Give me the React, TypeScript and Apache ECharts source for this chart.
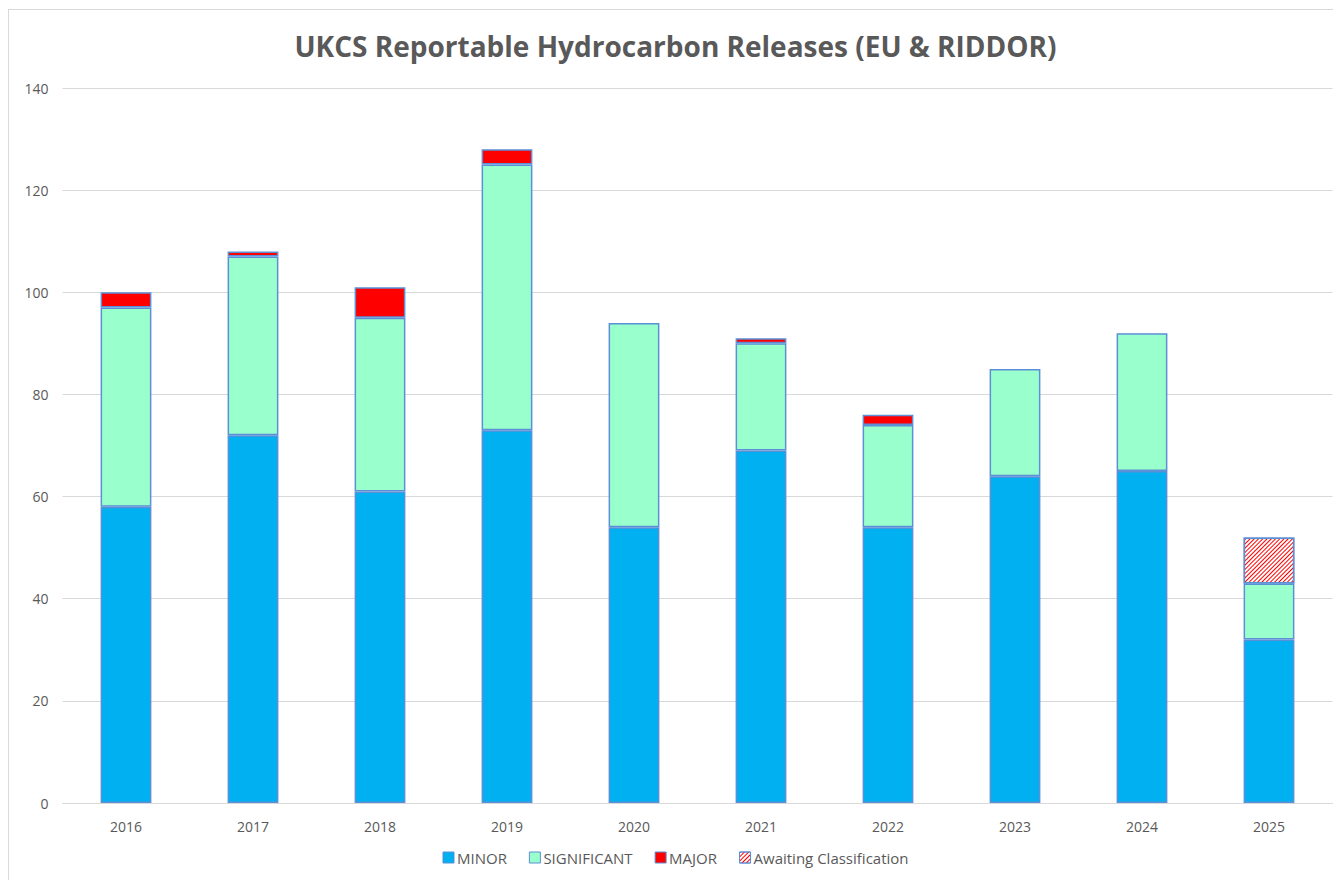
import React, { useEffect, useRef } from "react";
import * as echarts from "echarts";

const years = ["2016", "2017", "2018", "2019", "2020", "2021", "2022", "2023", "2024", "2025"];
const minor = [58, 72, 61, 73, 54, 69, 54, 64, 65, 32];
const significant = [39, 35, 34, 52, 40, 21, 20, 21, 27, 11];
const major = [3, 1, 6, 3, 0, 1, 2, 0, 0, 0];
const awaiting = [0, 0, 0, 0, 0, 0, 0, 0, 0, 9];

const FONT = "'Open Sans', 'Liberation Sans', sans-serif";
const BORDER = "#5B8FD6";

export default function App() {
  const ref = useRef<HTMLDivElement>(null);
  useEffect(() => {
    const chart = echarts.init(ref.current!, null, { renderer: "svg" });
    const hatch = {
      symbol: "rect",
      color: "#FF0000",
      dashArrayX: [1, 0],
      dashArrayY: [1, 2],
      rotation: -Math.PI / 4,
      symbolSize: 1,
    };
    const mk = (name: string, data: number[], color: string, extra: any = {}) => ({
      name,
      type: "bar",
      stack: "total",
      barWidth: "40%",
      data: data.map((v) => (v === 0 ? null : v)),
      itemStyle: { color, borderColor: BORDER, borderWidth: 1.5, ...extra },
      emphasis: { disabled: true },
    });
    chart.setOption({
      animation: false,
      backgroundColor: "#fff",
      title: {
        text: "UKCS Reportable Hydrocarbon Releases (EU & RIDDOR)",
        left: "center",
        top: 17,
        textStyle: { fontFamily: FONT, fontSize: 28, fontWeight: "bold", color: "#595959" },
      },
      grid: { left: 53.5, right: 9.5, top: 78, bottom: 77 },
      legend: {
        bottom: 10,
        left: "center",
        itemWidth: 11,
        itemHeight: 11,
        itemGap: 22,
        icon: "rect",
        textStyle: { fontFamily: FONT, fontSize: 15, color: "#595959", padding: [0, 0, 0, -2] },
        data: [
          { name: "MINOR", itemStyle: { borderColor: BORDER, borderWidth: 1 } },
          { name: "SIGNIFICANT", itemStyle: { borderColor: BORDER, borderWidth: 1 } },
          { name: "MAJOR", itemStyle: { borderColor: BORDER, borderWidth: 1 } },
          { name: "Awaiting Classification", itemStyle: { borderColor: BORDER, borderWidth: 1 } },
        ],
      },
      xAxis: {
        type: "category",
        data: years,
        axisTick: { show: false },
        axisLine: { lineStyle: { color: "#d9d9d9", width: 1 } },
        axisLabel: { fontFamily: FONT, fontSize: 14, color: "#595959", margin: 16 },
      },
      yAxis: {
        type: "value",
        min: 0,
        max: 140,
        interval: 20,
        axisLine: { show: false },
        axisTick: { show: false },
        splitLine: { lineStyle: { color: "#d9d9d9", width: 1 } },
        axisLabel: { fontFamily: FONT, fontSize: 14, color: "#595959", margin: 14 },
      },
      series: [
        mk("MINOR", minor, "#00B0F0"),
        mk("SIGNIFICANT", significant, "#99FFCC"),
        mk("MAJOR", major, "#FF0000"),
        mk("Awaiting Classification", awaiting, "#FFFFFF", { decal: hatch }),
      ],
    });
    return () => chart.dispose();
  }, []);
  return (
    <div
      style={{
        width: 1340,
        height: 872,
        borderTop: "1px solid #d9d9d9",
        borderLeft: "1px solid #d9d9d9",
        borderBottom: "1px solid #d9d9d9",
        boxSizing: "border-box",
        position: "relative",
        top: 1,
      }}
    >
      <div ref={ref} style={{ width: 1333, height: 870 }} />
    </div>
  );
}
